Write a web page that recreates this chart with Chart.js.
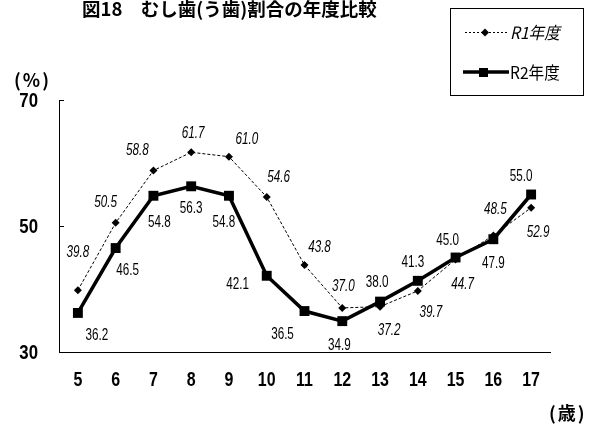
<!DOCTYPE html>
<html>
<head>
<meta charset="utf-8">
<script src="https://cdn.jsdelivr.net/npm/chart.js@4"></script>
<style>
  html, body { margin: 0; padding: 0; background: #fff; }
  #wrap { position: relative; width: 595px; height: 426px; }
  .txt { position: absolute; font-family: "Noto Sans CJK JP", sans-serif; font-weight: bold; color: #000; white-space: nowrap; line-height: 1; }
</style>
</head>
<body>
<div id="wrap">
  <canvas id="chart" width="595" height="426"></canvas>
  <div class="txt" style="left:82px; top:-1px; font-size:18.5px;">図18　むし歯(う歯)割合の年度比較</div>
  <div class="txt" style="left:14px; top:70px; font-size:18px; letter-spacing:2px;">(%)</div>
  <div class="txt" style="left:549px; top:403px; font-size:18px; letter-spacing:2px;">(歳)</div>
</div>
<script>
// 年齢
const ages = ['5', '6', '7', '8', '9', '10', '11', '12', '13', '14', '15', '16', '17'];
// むし歯割合 (%)
const r1Values = [39.8, 50.5, 58.8, 61.7, 61.0, 54.6, 43.8, 37.0, 37.2, 39.7, 44.7, 48.5, 52.9];
const r2Values = [36.2, 46.5, 54.8, 56.3, 54.8, 42.1, 36.5, 34.9, 38.0, 41.3, 45.0, 47.9, 55.0];
const seriesNames = ['R1年度', 'R2年度'];
const yTicks = [30, 50, 70];

// ラベル位置 (点からのずれ)
const r1LabelOffset = [[0,-38],[-10,-20],[-16,-20],[2,-19],[18,-17],[12,-19],[15,-18],[1,-21],[9,24],[13,22],[7,25],[2,-26],[7,25]];
const r2LabelOffset = [[19,23],[12,23],[6,27],[0,22],[-5,27],[-29,9],[-22,24],[-3,24],[-3,-19],[-5,-18],[-8,-17],[0,24],[-10,-18]];

const sans = '"Liberation Sans", Arial, sans-serif';

// 横に縮めた文字
function narrowText(ctx, text, x, y, sx) {
  ctx.save();
  ctx.translate(x, y);
  ctx.scale(sx, 1);
  ctx.fillText(text, 0, 0);
  ctx.restore();
}

// 値ラベル・目盛・凡例
const decoPlugin = {
  id: 'deco',
  afterDatasetsDraw(chart) {
    const ctx = chart.ctx;
    const xs = chart.scales.x, ys = chart.scales.y;
    ctx.save();
    ctx.fillStyle = '#000';
    ctx.textBaseline = 'middle';

    // 値ラベル
    ctx.textAlign = 'center';
    chart.data.datasets.forEach((ds, i) => {
      const meta = chart.getDatasetMeta(i);
      const offs = i === 0 ? r1LabelOffset : r2LabelOffset;
      ctx.font = (i === 0 ? 'italic ' : '') + '16px ' + sans;
      meta.data.forEach((pt, j) => {
        narrowText(ctx, ds.data[j].toFixed(1), pt.x + offs[j][0], pt.y + offs[j][1], 0.73);
      });
    });

    // 軸ラベル
    ctx.font = 'bold 21px ' + sans;
    ages.forEach((a, j) => {
      narrowText(ctx, a, xs.getPixelForTick(j), 380, 0.76);
    });
    ctx.textAlign = 'right';
    yTicks.forEach(v => {
      narrowText(ctx, String(v), 38, ys.getPixelForValue(v) + 1, 0.8);
    });

    // 内向き目盛
    const x0 = chart.chartArea.left;
    ctx.strokeStyle = '#000';
    ctx.lineWidth = 1;
    yTicks.forEach(v => {
      const py = Math.round(ys.getPixelForValue(v)) + 0.5;
      ctx.beginPath();
      ctx.moveTo(x0, py);
      ctx.lineTo(x0 + 5, py);
      ctx.stroke();
    });

    // 凡例
    ctx.strokeRect(450.5, 8.5, 133, 87);
    ctx.textAlign = 'left';
    ctx.setLineDash([2, 2]);
    ctx.beginPath();
    ctx.moveTo(465, 32.5); ctx.lineTo(507, 32.5);
    ctx.stroke();
    ctx.setLineDash([]);
    ctx.beginPath();
    ctx.moveTo(485, 28.5); ctx.lineTo(489, 32.5); ctx.lineTo(485, 36.5); ctx.lineTo(481, 32.5);
    ctx.closePath(); ctx.fill();
    ctx.font = 'italic 17px "Noto Sans CJK JP", sans-serif';
    narrowText(ctx, seriesNames[0], 510, 33, 0.92);

    ctx.lineWidth = 3.5;
    ctx.beginPath();
    ctx.moveTo(463, 72); ctx.lineTo(509, 72);
    ctx.stroke();
    ctx.fillRect(479, 68, 9, 9);
    ctx.font = '17px "Noto Sans CJK JP", sans-serif';
    narrowText(ctx, seriesNames[1], 510, 73, 0.92);
    ctx.restore();
  }
};

new Chart(document.getElementById('chart').getContext('2d'), {
  type: 'line',
  data: {
    labels: ages,
    datasets: [
      {
        label: seriesNames[0],
        data: r1Values,
        borderColor: '#000',
        backgroundColor: '#000',
        borderWidth: 1,
        borderDash: [3, 2],
        pointStyle: 'rectRot',
        pointRadius: 4,
        pointBorderWidth: 0,
        tension: 0
      },
      {
        label: seriesNames[1],
        data: r2Values,
        borderColor: '#000',
        backgroundColor: '#000',
        borderWidth: 3.5,
        pointStyle: 'rect',
        pointRadius: 7,
        pointBorderWidth: 0,
        tension: 0
      }
    ]
  },
  options: {
    responsive: false,
    animation: false,
    layout: { padding: { top: 100, right: 45, left: 0, bottom: 0 } },
    plugins: {
      legend: { display: false },
      tooltip: { enabled: false }
    },
    scales: {
      x: {
        offset: true,
        grid: { display: false, drawTicks: false },
        border: { display: true, color: '#000', width: 1 },
        ticks: { display: false },
        afterFit(scale) { scale.height = 74; }
      },
      y: {
        min: 30,
        max: 70,
        grid: { display: false, drawTicks: false },
        border: { display: true, color: '#000', width: 1 },
        ticks: { display: false, stepSize: 20 },
        afterFit(scale) { scale.width = 59; }
      }
    }
  },
  plugins: [decoPlugin]
});
</script>
</body>
</html>
